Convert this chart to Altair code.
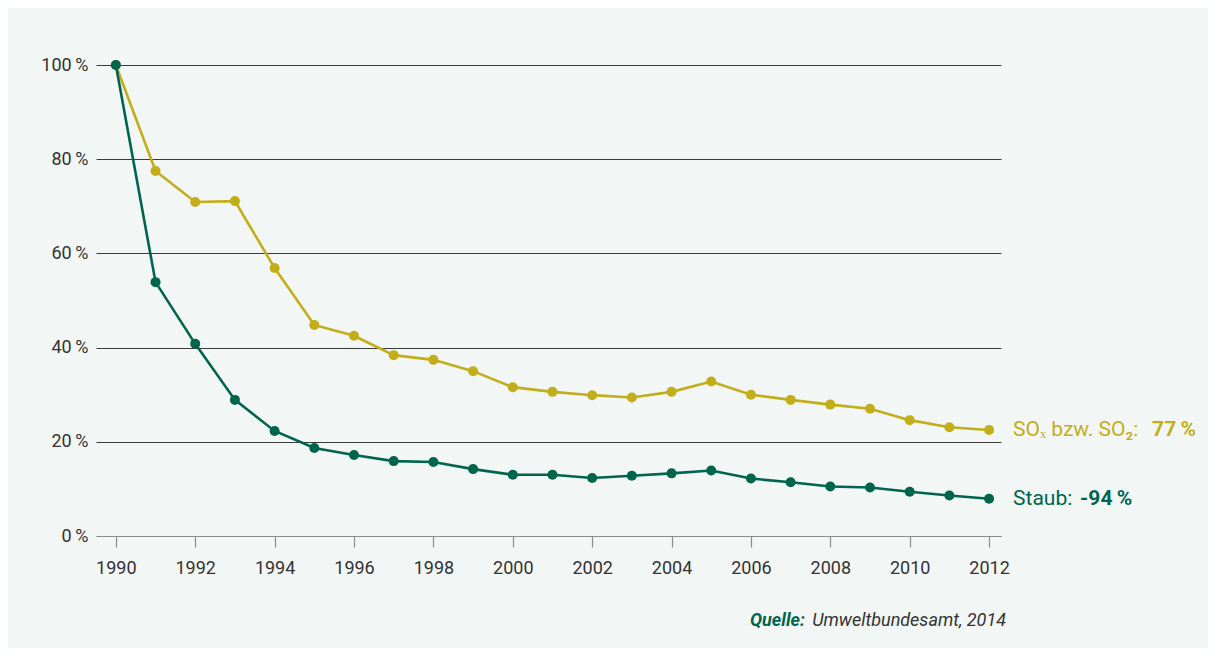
import altair as alt
import pandas as pd

years = list(range(1990, 2013))
so2 = [100, 77.5, 70.9, 71.1, 56.9, 44.8, 42.5, 38.4, 37.4, 35.0, 31.6, 30.6,
       29.9, 29.4, 30.6, 32.8, 30.0, 28.9, 27.9, 27.0, 24.6, 23.1, 22.5]
staub = [100, 53.9, 40.8, 28.9, 22.3, 18.7, 17.2, 15.9, 15.7, 14.2, 13.0, 13.0,
         12.3, 12.8, 13.3, 13.9, 12.2, 11.4, 10.5, 10.3, 9.4, 8.6, 7.9]
series_names = ["SO2", "Staub"]
label_normal = ["SOₓ bzw. SO₂:", "Staub:"]
label_bold = ["77\u2009%", "-94\u2009%"]
source_bold = "Quelle:"
source_text = "Umweltbundesamt, 2014"
x_ticks = list(range(1990, 2013, 2))
y_ticks = [0, 20, 40, 60, 80, 100]

YELLOW = "#C2AE1A"
GREEN = "#00654C"
FONT = "Roboto"
TEXT = "#333333"

df_so2 = pd.DataFrame({"year": years, "value": so2})
df_staub = pd.DataFrame({"year": years, "value": staub})

xscale = alt.Scale(domain=[1989.5, 2012.3], nice=False, zero=False)
yscale = alt.Scale(domain=[0, 100], nice=False)

xenc = alt.X("year:Q", scale=xscale, axis=alt.Axis(
    values=x_ticks, format="d", title=None, grid=False,
    domainColor="#8c8c8c", domainWidth=1.2, tickColor="#8c8c8c", tickSize=11,
    tickWidth=1.2, labelPadding=12, labelFont=FONT, labelFontSize=18,
    labelColor=TEXT))
yenc = alt.Y("value:Q", scale=yscale, axis=alt.Axis(
    values=y_ticks, title=None, grid=True, domain=False, ticks=False,
    gridColor={"condition": {"test": "datum.value === 0", "value": "#8c8c8c"}, "value": "#3a3a3a"},
    gridWidth=1, labelExpr="datum.value + '\u2009%'", labelPadding=8,
    labelFont=FONT, labelFontSize=18, labelColor=TEXT))

def series(df, color):
    line = alt.Chart(df).mark_line(color=color, strokeWidth=2.6).encode(x=xenc, y=yenc)
    pts = alt.Chart(df).mark_point(color=color, filled=True, opacity=1, size=100).encode(x="year:Q", y="value:Q")
    return line + pts

lab = pd.DataFrame({
    "year": [years[-1], years[-1]],
    "value": [so2[-1], staub[-1]],
    "normal": label_normal,
    "bold": label_bold,
    "series": series_names,
})
lab_so2 = lab[lab.series == "SO2"]
lab_staub = lab[lab.series == "Staub"]

def labels(d, color, dx_bold):
    t1 = alt.Chart(d).mark_text(align="left", baseline="middle", dx=24, font=FONT,
                                fontSize=21, color=color).encode(x="year:Q", y="value:Q", text="normal:N")
    t2 = alt.Chart(d).mark_text(align="left", baseline="middle", dx=dx_bold, font=FONT,
                                fontSize=21, fontWeight="bold", color=color).encode(x="year:Q", y="value:Q", text="bold:N")
    return t1 + t2

src = pd.DataFrame({"a": [source_bold], "b": [source_text]})
s1 = alt.Chart(src).mark_text(align="left", baseline="middle", font=FONT, fontSize=18,
                              fontStyle="italic", fontWeight="bold", color=GREEN).encode(
    x=alt.value(654), y=alt.value(556), text="a:N")
s2 = alt.Chart(src).mark_text(align="right", baseline="middle", font=FONT, fontSize=18,
                              fontStyle="italic", color=TEXT).encode(
    x=alt.value(910), y=alt.value(556), text="b:N")

chart = alt.layer(
    series(df_so2, YELLOW), series(df_staub, GREEN),
    labels(lab_so2, YELLOW, 163), labels(lab_staub, GREEN, 91),
    s1, s2,
).properties(
    width=905, height=471,
    autosize=alt.AutoSizeParams(type="none"),
    padding={"left": 88, "top": 57, "right": 207, "bottom": 112},
    background="#F2F6F5",
).configure_view(stroke=None)

chart.save("out.html", embed_options={"renderer": "svg", "actions": False})
